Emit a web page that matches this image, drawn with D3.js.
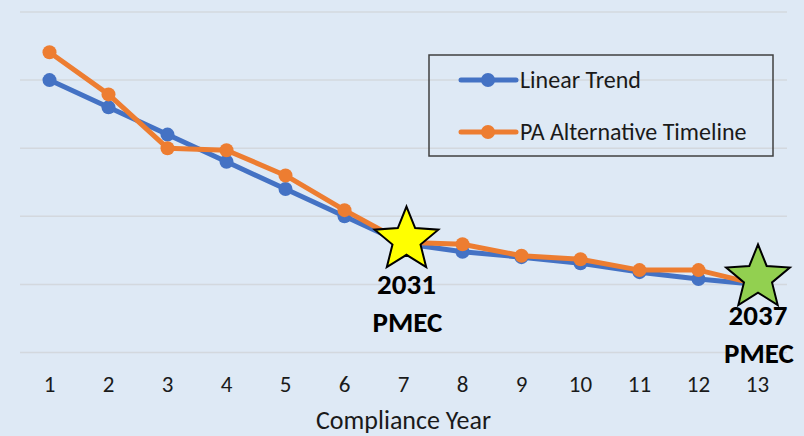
<!DOCTYPE html>
<html>
<head>
<meta charset="utf-8">
<script src="https://cdn.jsdelivr.net/npm/d3@7"></script>
<style>
  body { margin: 0; background: #dee9f5; }
  svg { display: block; font-family: Carlito, Lato, "Noto Sans", sans-serif; }
  .grid line { stroke: #d3d8de; stroke-width: 1.5; }
  .tick text { fill: #1a1a1a; }
  .note { font-weight: bold; fill: #000; text-anchor: middle; }
</style>
</head>
<body>
<div id="chart"></div>
<script>
// compliance years on the x axis
const years = [1, 2, 3, 4, 5, 6, 7, 8, 9, 10, 11, 12, 13];
// values (unlabelled y axis, one unit per gridline)
const linearTrend = [4.0, 3.6, 3.2, 2.8, 2.4, 2.0, 1.6, 1.48, 1.4, 1.31, 1.18, 1.08, 1.0];
const paAlternative = [4.41, 3.79, 3.0, 2.97, 2.6, 2.09, 1.62, 1.59, 1.42, 1.37, 1.21, 1.21, 1.0];
const gridValues = [0, 1, 2, 3, 4, 5];
const seriesNames = ["Linear Trend", "PA Alternative Timeline"];
const seriesColors = ["#4472c4", "#ed7d31"];
// milestones: year, label lines, star fill
const milestones = [
  {year: 7, label: ["2031", "PMEC"], fill: "#ffff00"},
  {year: 13, label: ["2037", "PMEC"], fill: "#92d050"}
];

const width = 804, height = 436;
const margin = {top: 12, right: 17, bottom: 84, left: 20};

const svg = d3.select("#chart").append("svg")
  .attr("width", width)
  .attr("height", height);

svg.append("rect")
  .attr("width", width)
  .attr("height", height)
  .attr("fill", "#dee9f5");

const x = d3.scaleBand()
  .domain(years)
  .range([margin.left, width - margin.right])
  .padding(0);

const y = d3.scaleLinear()
  .domain([0, 5])
  .range([height - margin.bottom + 0.5, margin.top]);

const cx = d => x(d) + x.bandwidth() / 2;

// gridlines
svg.append("g")
  .attr("class", "grid")
  .selectAll("line")
  .data(gridValues)
  .join("line")
  .attr("x1", margin.left)
  .attr("x2", width - margin.right)
  .attr("y1", d => y(d))
  .attr("y2", d => y(d));

// x axis labels only (no axis line, no ticks)
const xAxis = svg.append("g")
  .attr("transform", "translate(0," + (height - margin.bottom + 0.5) + ")")
  .call(d3.axisBottom(x).tickSize(0).tickPadding(23));
xAxis.select(".domain").remove();
xAxis.selectAll("text")
  .style("font-size", "23px")
  .style("font-family", "Carlito, Lato, sans-serif");

svg.append("text")
  .attr("x", (margin.left + width - margin.right) / 2)
  .attr("y", 429)
  .attr("text-anchor", "middle")
  .style("font-size", "26px")
  .attr("fill", "#1a1a1a")
  .text("Compliance Year");

// series lines
const allSeries = [linearTrend, paAlternative];
const line = d3.line()
  .x((d, i) => cx(years[i]))
  .y(d => y(d));

allSeries.forEach((vals, k) => {
  const g = svg.append("g");
  g.append("path")
    .datum(vals)
    .attr("d", line)
    .attr("fill", "none")
    .attr("stroke", seriesColors[k])
    .attr("stroke-width", 5)
    .attr("stroke-linejoin", "round");
  g.selectAll("circle")
    .data(vals)
    .join("circle")
    .attr("cx", (d, i) => cx(years[i]))
    .attr("cy", d => y(d))
    .attr("r", 7)
    .attr("fill", seriesColors[k]);
});

// five point star, a bit fatter than d3.symbolStar (like the office shape)
const fatStar = {
  draw(context, r) {
    const inner = r * 0.44;
    for (let i = 0; i < 10; i++) {
      const a = -Math.PI / 2 + i * Math.PI / 5;
      const rr = i % 2 ? inner : r;
      const px = Math.cos(a) * rr, py = Math.sin(a) * rr;
      if (i === 0) context.moveTo(px, py); else context.lineTo(px, py);
    }
    context.closePath();
  }
};
const star = d3.symbol().type(fatStar).size(33.5);

milestones.forEach(m => {
  const i = years.indexOf(m.year);
  const v = linearTrend[i];
  const last = m.year === 13;
  const sx = cx(m.year) + (last ? 0.5 : 3);
  const sy = y(v) - (last ? 6.5 : 3.5);
  svg.append("path")
    .attr("d", star)
    .attr("transform", "translate(" + sx + "," + sy + ")")
    .attr("fill", m.fill)
    .attr("stroke", "#000")
    .attr("stroke-width", 2)
    .attr("stroke-linejoin", "miter");
  const ty = last ? 325 : 294;
  svg.append("text")
    .attr("class", "note")
    .attr("x", sx)
    .attr("y", ty)
    .style("font-size", "29px")
    .text(m.label[0]);
  svg.append("text")
    .attr("class", "note")
    .attr("x", sx + 1)
    .attr("y", ty + 38)
    .style("font-size", "29px")
    .text(m.label[1]);
});

// legend
const legend = svg.append("g");
legend.append("rect")
  .attr("x", 429)
  .attr("y", 55)
  .attr("width", 344)
  .attr("height", 101)
  .attr("fill", "none")
  .attr("stroke", "#404040")
  .attr("stroke-width", 1.5);

seriesNames.forEach((name, k) => {
  const ly = 80 + k * 52;
  legend.append("line")
    .attr("x1", 461).attr("x2", 516)
    .attr("y1", ly).attr("y2", ly)
    .attr("stroke", seriesColors[k])
    .attr("stroke-width", 5)
    .attr("stroke-linecap", "round");
  legend.append("circle")
    .attr("cx", 488).attr("cy", ly)
    .attr("r", 7)
    .attr("fill", seriesColors[k]);
  legend.append("text")
    .attr("x", 520)
    .attr("y", ly + 8)
    .style("font-size", "24px")
    .attr("fill", "#1a1a1a")
    .text(name);
});
</script>
</body>
</html>
